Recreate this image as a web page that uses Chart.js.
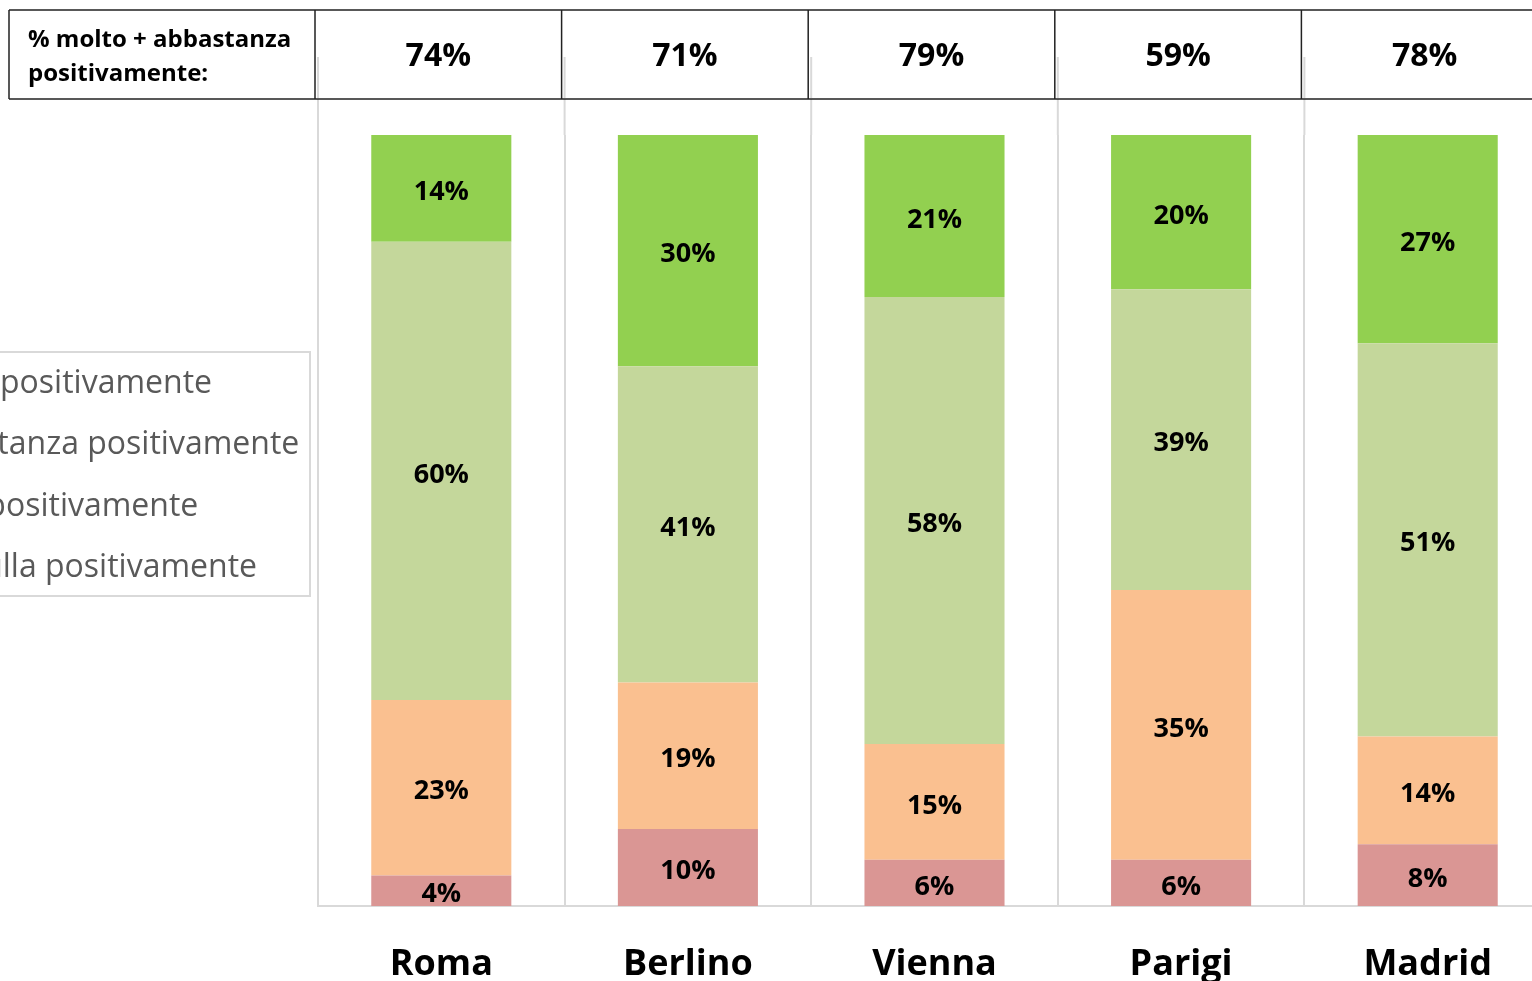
<!DOCTYPE html>
<html>
<head>
<meta charset="utf-8">
<script src="https://cdn.jsdelivr.net/npm/chart.js@4.4.1/dist/chart.umd.min.js"></script>
<style>
  html, body { margin: 0; padding: 0; background: #fff; overflow: hidden; }
  #wrap { position: relative; width: 1551px; height: 981px; }
</style>
</head>
<body>
<div id="wrap"><canvas id="chart"></canvas></div>
<script>
const cities = ['Roma', 'Berlino', 'Vienna', 'Parigi', 'Madrid'];
const molto = [14, 30, 21, 20, 27];
const abbastanza = [60, 41, 58, 39, 51];
const poco = [23, 19, 15, 35, 14];
const nulla = [4, 10, 6, 6, 8];
const positiveTotals = ['74%', '71%', '79%', '59%', '78%'];
const headerLabel = ['% molto + abbastanza', 'positivamente:'];

const seriesNames = ['Per nulla positivamente', 'Poco positivamente', 'Abbastanza positivamente', 'Molto positivamente'];
const seriesColors = ['#da9694', '#fac090', '#c4d79b', '#92d050'];
const seriesValues = [nulla, poco, abbastanza, molto];

// 100% stacked, like the original: each column is scaled to its own total
const totals = cities.map((c, i) => seriesValues.reduce((s, arr) => s + arr[i], 0));

const datasets = seriesValues.map((vals, k) => ({
  label: seriesNames[k],
  data: vals.map((v, i) => v / totals[i] * 100),
  raw: vals,
  backgroundColor: seriesColors[k],
  borderWidth: 0,
  categoryPercentage: 1,
  barPercentage: 0.568
}));

const FONT = '"Open Sans", "Noto Sans", sans-serif';

const barLabels = {
  id: 'barLabels',
  afterDatasetsDraw(chart) {
    const ctx = chart.ctx;
    ctx.save();
    ctx.font = 'bold 27px ' + FONT;
    ctx.fillStyle = '#000';
    ctx.textAlign = 'center';
    ctx.textBaseline = 'middle';
    chart.data.datasets.forEach((ds, k) => {
      chart.getDatasetMeta(k).data.forEach((bar, i) => {
        ctx.fillText(ds.raw[i] + '%', bar.x, (bar.y + bar.base) / 2 + 4);
      });
    });
    ctx.restore();
  }
};

const headerAndLegend = {
  id: 'headerAndLegend',
  afterDraw(chart) {
    const ctx = chart.ctx;
    const x = chart.scales.x;
    const area = chart.chartArea;
    const step = x.getPixelForValue(1) - x.getPixelForValue(0);
    const edges = cities.map((c, i) => x.getPixelForValue(i) - step / 2);

    ctx.save();
    // grid lines continue up into the header row
    ctx.strokeStyle = '#d9d9d9';
    ctx.lineWidth = 2;
    edges.forEach(e => {
      ctx.beginPath();
      ctx.moveTo(e, 57);
      ctx.lineTo(e, area.top);
      ctx.stroke();
    });

    // header table
    ctx.fillStyle = '#fff';
    ctx.fillRect(9, 10, chart.width, 89);
    ctx.strokeStyle = '#222';
    ctx.lineWidth = 1.5;
    ctx.beginPath();
    ctx.moveTo(9, 10); ctx.lineTo(chart.width, 10);
    ctx.moveTo(9, 99); ctx.lineTo(chart.width, 99);
    ctx.moveTo(9, 10); ctx.lineTo(9, 99);
    edges.forEach(e => { ctx.moveTo(e - 3, 10); ctx.lineTo(e - 3, 99); });
    ctx.stroke();
    ctx.strokeStyle = '#d9d9d9';
    ctx.lineWidth = 2;
    edges.forEach(e => {
      ctx.beginPath();
      ctx.moveTo(e, 57);
      ctx.lineTo(e, 98);
      ctx.stroke();
    });

    ctx.fillStyle = '#000';
    ctx.textBaseline = 'middle';
    ctx.textAlign = 'left';
    ctx.font = 'bold 24px ' + FONT;
    ctx.fillText(headerLabel[0], 28, 40);
    ctx.fillText(headerLabel[1], 28, 74);
    ctx.textAlign = 'center';
    ctx.font = 'bold 32px ' + FONT;
    positiveTotals.forEach((t, i) => {
      ctx.fillText(t, x.getPixelForValue(i) - 3, 57);
    });

    // legend box, partly off the left edge
    ctx.strokeStyle = '#d9d9d9';
    ctx.lineWidth = 2;
    ctx.strokeRect(-20, 352, 330, 244);
    ctx.font = '32px ' + FONT;
    ctx.textAlign = 'left';
    const textX = -ctx.measureText('Molto ').width;
    const rows = [3, 2, 1, 0];
    rows.forEach((k, r) => {
      const y = 384 + r * 61.3;
      ctx.fillStyle = seriesColors[k];
      ctx.fillRect(textX - 30, y - 8, 16, 16);
      ctx.fillStyle = '#595959';
      ctx.fillText(seriesNames[k], textX, y);
    });
    ctx.restore();
  }
};

new Chart(document.getElementById('chart'), {
  type: 'bar',
  data: { labels: cities, datasets },
  options: {
    responsive: true,
    maintainAspectRatio: false,
    animation: false,
    layout: { padding: { left: 318, top: 135, right: 0, bottom: 0 } },
    plugins: {
      legend: { display: false },
      tooltip: { enabled: false }
    },
    scales: {
      x: {
        stacked: true,
        grid: { color: '#d9d9d9', lineWidth: 2, drawTicks: false },
        border: { color: '#d9d9d9', width: 2 },
        afterFit: scale => { scale.height = 75; },
        ticks: {
          color: '#000',
          padding: 41,
          font: { family: FONT, size: 36, weight: 'bold', lineHeight: 1 }
        }
      },
      y: {
        stacked: true,
        min: 0,
        max: 100,
        display: false
      }
    }
  },
  plugins: [barLabels, headerAndLegend]
});
</script>
</body>
</html>
